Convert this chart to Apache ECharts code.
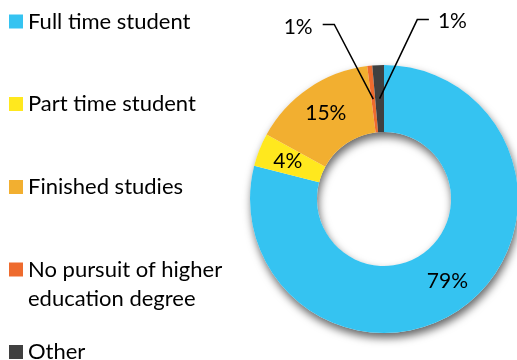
<!DOCTYPE html>
<html>
<head>
<meta charset="utf-8">
<script src="https://cdn.jsdelivr.net/npm/echarts@6/dist/echarts.min.js"></script>
<style>html,body{margin:0;padding:0;background:#fff;}#c{width:517px;height:360px;}</style>
</head>
<body>
<div id="c"></div>
<script>
const categories = ['Full time student', 'Part time student', 'Finished studies', 'No pursuit of higher education degree', 'Other'];
const legendLabels = ['Full time student', 'Part time student', 'Finished studies', 'No pursuit of higher\neducation degree', 'Other'];
const values = [79, 4, 15, 0.6, 1.4];
const colors = ['#35C3F1', '#FFE81E', '#F2AF30', '#EE6B2E', '#404040'];

const FONT = 'Lato';
const CENTER = [384, 199];
const RADIUS = [67, 134];
const chart = echarts.init(document.getElementById('c'), null, {renderer: 'canvas'});

const total = values.reduce((a, b) => a + b, 0);
const smallIdx = values.map((v, i) => v < 2 ? i : -1).filter(i => i >= 0);
// leader-line offsets for the small-slice callouts (layout only)
const callout = [
  {elbow: [-39, -74.6], tail: -11.6, gap: -10, dy: 3, align: 'right'},
  {elbow: [37.7, -79], tail: 11.6, gap: 9, dy: 1.5, align: 'left'}
];

const pieData = categories.map((name, i) => {
  const d = {name: name, value: values[i], itemStyle: {color: colors[i]}};
  if (smallIdx.indexOf(i) >= 0) d.label = {show: false};
  return d;
});

const legendTops = [7, 89.5, 172.5, 226, 337.5];
const legends = categories.map((name, i) => ({
  data: [name],
  orient: 'vertical',
  left: 9,
  top: legendTops[i],
  padding: 0,
  itemWidth: 14,
  itemHeight: 14,
  itemGap: 0,
  icon: 'rect',
  selectedMode: false,
  formatter: () => (legendLabels[i].indexOf('\n') >= 0 ? ' \n' + legendLabels[i] : legendLabels[i]),
  textStyle: {fontFamily: FONT, fontSize: 22, color: '#000', lineHeight: 29}
}));

function midAngle(i) {
  let before = 0;
  for (let j = 0; j < i; j++) before += values[j];
  return (before + values[i] / 2) / total * 2 * Math.PI;
}

chart.setOption({
  animation: false,
  legend: legends,
  series: [
    {
      type: 'pie',
      silent: true,
      center: CENTER,
      radius: RADIUS,
      label: {show: false},
      labelLine: {show: false},
      itemStyle: {color: '#ffffff', shadowBlur: 9, shadowOffsetX: 1.5, shadowOffsetY: 5, shadowColor: 'rgba(0,0,0,0.6)'},
      data: [{name: '', value: total}],
      z: 1
    },
    {
      type: 'pie',
      silent: true,
      center: CENTER,
      radius: RADIUS,
      startAngle: 90,
      clockwise: true,
      avoidLabelOverlap: false,
      z: 2,
      label: {
        show: true,
        position: 'inside',
        fontFamily: FONT,
        fontSize: 21,
        color: '#000',
        formatter: p => Math.round(p.percent) + '%'
      },
      labelLine: {show: false},
      data: pieData
    },
    {
      type: 'custom',
      coordinateSystem: 'none',
      silent: true,
      z: 3,
      data: smallIdx.map(i => [i, values[i]]),
      renderItem: function (params, api) {
        const i = api.value(0);
        const k = smallIdx.indexOf(i);
        const c = callout[k];
        const a = midAngle(i);
        const rMid = (RADIUS[0] + RADIUS[1]) / 2;
        const s = [CENTER[0] + rMid * Math.sin(a), CENTER[1] - rMid * Math.cos(a)];
        const elbow = [s[0] + c.elbow[0], s[1] + c.elbow[1]];
        const end = [elbow[0] + c.tail, elbow[1]];
        const pct = Math.round(values[i] / total * 100) + '%';
        return {
          type: 'group',
          children: [
            {type: 'polyline', shape: {points: [s, elbow, end]}, style: {stroke: '#000', lineWidth: 1.5, fill: null}},
            {type: 'text', style: {text: pct, x: end[0] + c.gap, y: end[1] + c.dy, align: c.align, verticalAlign: 'middle', fontFamily: FONT, fontSize: 21, fill: '#000'}}
          ]
        };
      }
    }
  ]
});
</script>
</body>
</html>
